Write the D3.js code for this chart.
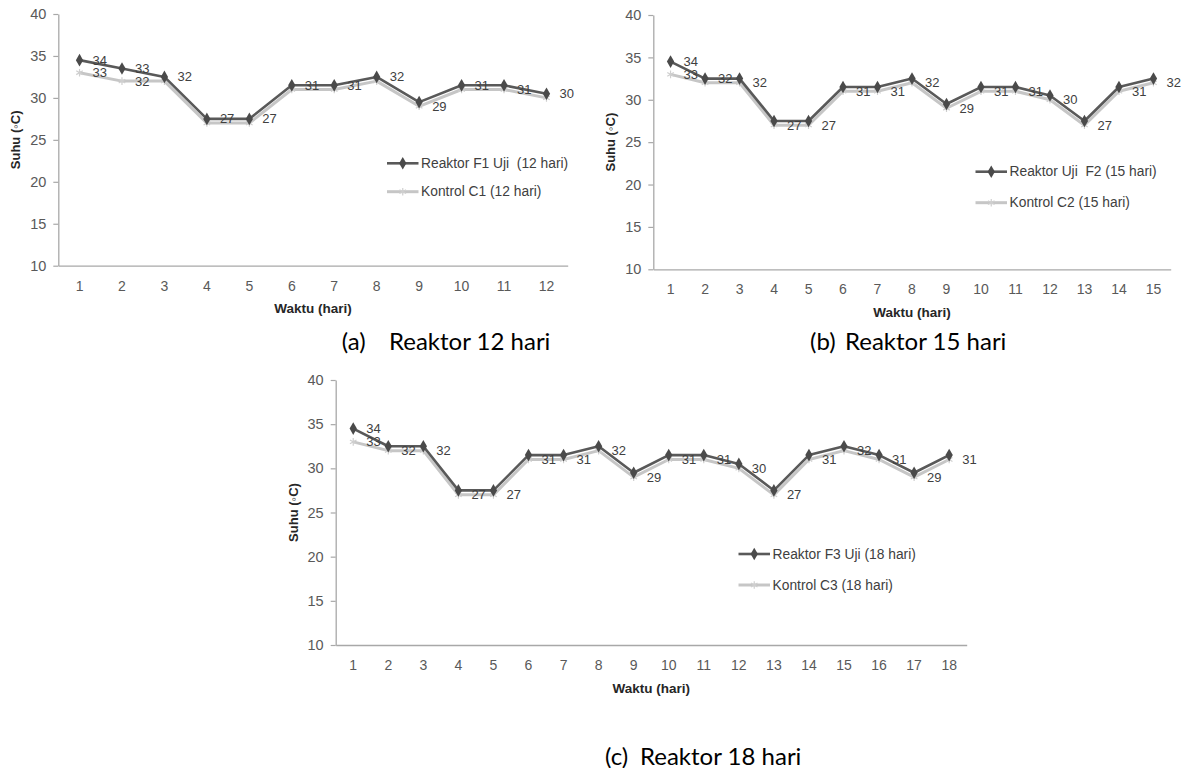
<!DOCTYPE html>
<html>
<head>
<meta charset="utf-8">
<script src="https://cdn.jsdelivr.net/npm/d3@7/dist/d3.min.js"></script>
<style>
  html, body { margin: 0; padding: 0; background: #ffffff; }
  svg { display: block; }
  text { white-space: pre; }
</style>
</head>
<body>
<svg id="chart" width="1194" height="768"></svg>
<script>
// ---------------- DATA ----------------
const yTicks = [10, 15, 20, 25, 30, 35, 40];

const daysA = [1, 2, 3, 4, 5, 6, 7, 8, 9, 10, 11, 12];
const reaktorF1 = [34.5, 33.5, 32.5, 27.5, 27.5, 31.5, 31.5, 32.5, 29.5, 31.5, 31.5, 30.5];
const kontrolC1 = [33, 32, 32, 27, 27, 31, 31, 32, 29, 31, 31, 30];
const showLabelF1 = [1, 1, 1, 1, 1, 1, 1, 1, 0, 1, 0, 1];
const showLabelC1 = [1, 1, 0, 0, 0, 0, 0, 0, 1, 0, 1, 0];

const daysB = [1, 2, 3, 4, 5, 6, 7, 8, 9, 10, 11, 12, 13, 14, 15];
const reaktorF2 = [34.5, 32.5, 32.5, 27.5, 27.5, 31.5, 31.5, 32.5, 29.5, 31.5, 31.5, 30.5, 27.5, 31.5, 32.5];
const kontrolC2 = [33, 32, 32, 27, 27, 31, 31, 32, 29, 31, 31, 30, 27, 31, 32];
const showLabelF2 = [1, 1, 0, 0, 0, 0, 0, 0, 0, 0, 0, 0, 0, 0, 0];
const showLabelC2 = [1, 0, 1, 1, 1, 1, 1, 1, 1, 1, 1, 1, 1, 1, 1];

const daysC = [1, 2, 3, 4, 5, 6, 7, 8, 9, 10, 11, 12, 13, 14, 15, 16, 17, 18];
const reaktorF3 = [34.5, 32.5, 32.5, 27.5, 27.5, 31.5, 31.5, 32.5, 29.5, 31.5, 31.5, 30.5, 27.5, 31.5, 32.5, 31.5, 29.5, 31.5];
const kontrolC3 = [33, 32, 32, 27, 27, 31, 31, 32, 29, 31, 31, 30, 27, 31, 32, 31, 29, 31];
const showLabelF3 = [1, 0, 0, 0, 0, 0, 0, 0, 0, 0, 0, 0, 0, 0, 0, 0, 0, 0];
const showLabelC3 = [1, 1, 1, 1, 1, 1, 1, 1, 1, 1, 1, 1, 1, 1, 1, 1, 1, 1];

const legendA = ["Reaktor F1 Uji  (12 hari)", "Kontrol C1 (12 hari)"];
const legendB = ["Reaktor Uji  F2 (15 hari)", "Kontrol C2 (15 hari)"];
const legendC = ["Reaktor F3 Uji (18 hari)", "Kontrol C3 (18 hari)"];

const xTitle = "Waktu (hari)";
const yTitle = "Suhu (\u25E6C)";

const captions = [
  { tag: "(a)", text: "Reaktor 12 hari" },
  { tag: "(b)", text: "Reaktor 15 hari" },
  { tag: "(c)", text: "Reaktor 18 hari" }
];

// ---------------- STYLE / LAYOUT ----------------
const FONT = "'Liberation Sans', Arial, sans-serif";
const CAP_FONT = "Lato, 'Open Sans', sans-serif";
const colF = "#595959", colFMark = "#4a4a4a";
const colC = "#c6c6c6", colCMark = "#cfcfcf";
const axisCol = "#a8a8a8", tickTextCol = "#595959", labelCol = "#404040";

const panels = [
  { days: daysA, f: reaktorF1, c: kontrolC1, sf: showLabelF1, sc: showLabelC1, legend: legendA,
    x0: 58.3, x1: 567.7, yTop: 14, yBot: 265.7, legX: 387, legY: 163.3, legGap: 28.4 },
  { days: daysB, f: reaktorF2, c: kontrolC2, sf: showLabelF2, sc: showLabelC2, legend: legendB,
    x0: 653.3, x1: 1170.7, yTop: 15, yBot: 269.3, legX: 975.5, legY: 171.7, legGap: 31 },
  { days: daysC, f: reaktorF3, c: kontrolC3, sf: showLabelF3, sc: showLabelC3, legend: legendC,
    x0: 335.7, x1: 966.7, yTop: 380, yBot: 645, legX: 738.5, legY: 554, legGap: 31 }
];

const captionPos = [
  { tagX: 341.7, textX: 389, y: 340 },
  { tagX: 810, textX: 845, y: 340 },
  { tagX: 605, textX: 640, y: 755 }
];

const svg = d3.select("#chart");

const diamond = d3.symbol().type(d3.symbolDiamond).size(46);
const starType = d3.symbolAsterisk || d3.symbolCross;
const star = d3.symbol().type(starType).size(40);

panels.forEach(p => {
  const g = svg.append("g");
  const x = d3.scaleBand().domain(p.days).range([p.x0, p.x1]);
  const y = d3.scaleLinear().domain([10, 40]).range([p.yBot, p.yTop]);
  const cx = d => x(d) + x.bandwidth() / 2;

  // Y axis
  const yAxis = g.append("g")
    .attr("transform", `translate(${p.x0},0)`)
    .call(d3.axisLeft(y).tickValues(yTicks).tickSize(5).tickSizeOuter(0).tickPadding(7));
  yAxis.select(".domain").attr("stroke", axisCol).attr("stroke-width", 1.3);
  yAxis.selectAll(".tick line").attr("stroke", axisCol).attr("stroke-width", 1.2);
  yAxis.selectAll(".tick text").attr("fill", tickTextCol)
    .style("font-family", FONT).style("font-size", "14.5px");

  // X axis
  const xAxis = g.append("g")
    .attr("transform", `translate(0,${p.yBot})`)
    .call(d3.axisBottom(x).tickSize(0).tickSizeOuter(0).tickPadding(15));
  xAxis.select(".domain").attr("stroke", axisCol).attr("stroke-width", 1.3);
  xAxis.selectAll(".tick text").attr("fill", tickTextCol)
    .style("font-family", FONT).style("font-size", "14px");

  // Axis titles
  g.append("text")
    .attr("x", (p.x0 + p.x1) / 2).attr("y", p.yBot + 43)
    .attr("text-anchor", "middle").attr("dominant-baseline", "central")
    .attr("fill", "#262626")
    .style("font-family", FONT).style("font-size", "13.5px").style("font-weight", "bold")
    .text(xTitle);
  g.append("text")
    .attr("transform", `translate(${p.x0 - 42.5},${(p.yTop + p.yBot) / 2}) rotate(-90)`)
    .attr("text-anchor", "middle").attr("dominant-baseline", "central")
    .attr("fill", "#262626")
    .style("font-family", FONT).style("font-size", "13px").style("font-weight", "bold")
    .text(yTitle);

  // Lines
  const line = d3.line().x((v, i) => cx(p.days[i])).y(v => y(v));
  g.append("path").datum(p.c).attr("d", line)
    .attr("fill", "none").attr("stroke", colC).attr("stroke-width", 3)
    .attr("stroke-linejoin", "round");
  g.selectAll(".mc").data(p.c).enter().append("path")
    .attr("transform", (v, i) => `translate(${cx(p.days[i])},${y(v)})`)
    .attr("d", star).attr("fill", colCMark).attr("stroke", colCMark).attr("stroke-width", 1.2);
  g.append("path").datum(p.f).attr("d", line)
    .attr("fill", "none").attr("stroke", colF).attr("stroke-width", 2.6)
    .attr("stroke-linejoin", "round");
  g.selectAll(".mf").data(p.f).enter().append("path")
    .attr("transform", (v, i) => `translate(${cx(p.days[i])},${y(v)})`)
    .attr("d", diamond).attr("fill", colFMark);

  // Data labels
  const addLabels = (vals, show) => {
    vals.forEach((v, i) => {
      if (!show[i]) return;
      g.append("text")
        .attr("x", cx(p.days[i]) + 13).attr("y", y(v))
        .attr("dominant-baseline", "central")
        .attr("fill", labelCol)
        .style("font-family", FONT).style("font-size", "13px")
        .text(String(Math.floor(v)));
    });
  };
  addLabels(p.f, p.sf);
  addLabels(p.c, p.sc);

  // Legend
  const items = [
    { label: p.legend[0], col: colF, mcol: colFMark, sym: diamond, w: 2.6 },
    { label: p.legend[1], col: colC, mcol: colCMark, sym: star, w: 3 }
  ];
  items.forEach((it, k) => {
    const ly = p.legY + k * p.legGap;
    g.append("line").attr("x1", p.legX).attr("x2", p.legX + 31.5)
      .attr("y1", ly).attr("y2", ly).attr("stroke", it.col).attr("stroke-width", it.w);
    g.append("path").attr("transform", `translate(${p.legX + 15.75},${ly})`)
      .attr("d", it.sym).attr("fill", it.mcol).attr("stroke", k ? it.mcol : "none").attr("stroke-width", 1.2);
    g.append("text").attr("x", p.legX + 34).attr("y", ly)
      .attr("dominant-baseline", "central").attr("fill", "#404040")
      .style("font-family", FONT).style("font-size", "13.8px")
      .text(it.label);
  });
});

// Captions
captions.forEach((c, i) => {
  const pos = captionPos[i];
  svg.append("text").attr("x", pos.tagX).attr("y", pos.y)
    .attr("dominant-baseline", "central").attr("fill", "#000")
    .style("font-family", CAP_FONT).style("font-size", "24px")
    .text(c.tag);
  svg.append("text").attr("x", pos.textX).attr("y", pos.y)
    .attr("dominant-baseline", "central").attr("fill", "#000")
    .style("font-family", CAP_FONT).style("font-size", "24px")
    .text(c.text);
});
</script>
</body>
</html>
